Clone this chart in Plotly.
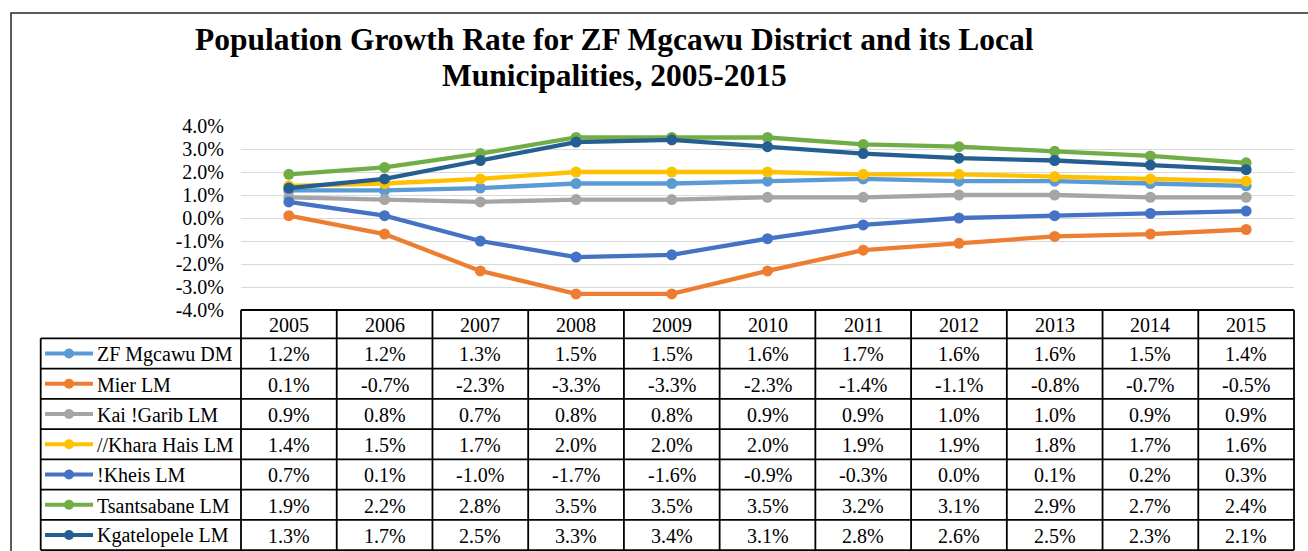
import plotly.graph_objects as go

years = ["2005", "2006", "2007", "2008", "2009", "2010", "2011", "2012", "2013", "2014", "2015"]
series_names = ["ZF Mgcawu DM", "Mier LM", "Kai !Garib LM", "//Khara Hais LM", "!Kheis LM", "Tsantsabane LM", "Kgatelopele LM"]
zf_mgcawu = [1.2, 1.2, 1.3, 1.5, 1.5, 1.6, 1.7, 1.6, 1.6, 1.5, 1.4]
mier = [0.1, -0.7, -2.3, -3.3, -3.3, -2.3, -1.4, -1.1, -0.8, -0.7, -0.5]
kai_garib = [0.9, 0.8, 0.7, 0.8, 0.8, 0.9, 0.9, 1.0, 1.0, 0.9, 0.9]
khara_hais = [1.4, 1.5, 1.7, 2.0, 2.0, 2.0, 1.9, 1.9, 1.8, 1.7, 1.6]
kheis = [0.7, 0.1, -1.0, -1.7, -1.6, -0.9, -0.3, 0.0, 0.1, 0.2, 0.3]
tsantsabane = [1.9, 2.2, 2.8, 3.5, 3.5, 3.5, 3.2, 3.1, 2.9, 2.7, 2.4]
kgatelopele = [1.3, 1.7, 2.5, 3.3, 3.4, 3.1, 2.8, 2.6, 2.5, 2.3, 2.1]
series_values = [zf_mgcawu, mier, kai_garib, khara_hais, kheis, tsantsabane, kgatelopele]
colors = ["#5B9BD5", "#ED7D31", "#A5A5A5", "#FFC000", "#4472C4", "#70AD47", "#255E91"]
y_tick_vals = [-4, -3, -2, -1, 0, 1, 2, 3, 4]
y_tick_text = ["-4.0%", "-3.0%", "-2.0%", "-1.0%", "0.0%", "1.0%", "2.0%", "3.0%", "4.0%"]
title_line1 = "Population Growth Rate for ZF Mgcawu District and its Local"
title_line2 = "Municipalities, 2005-2015"

W, H = 1308, 551
L, R, T, B = 241, 14, 126, 241
PW = W - L - R
PH = H - T - B
FONT = "Liberation Serif, Times New Roman, serif"


def px_x(px):
    return (px - L) / PW


def px_y(py):
    return (H - B - py) / PH


fig = go.Figure()
for name, vals, col in zip(series_names, series_values, colors):
    fig.add_trace(go.Scatter(
        x=years, y=vals, name=name, mode="lines+markers",
        line=dict(color=col, width=4.3),
        marker=dict(color=col, size=11),
        showlegend=False,
    ))

shapes = []
annotations = []

# outer chart border
shapes.append(dict(type="rect", xref="paper", yref="paper",
                   x0=px_x(11), x1=px_x(1330), y0=px_y(13), y1=px_y(600),
                   line=dict(color="#262626", width=1.5), fillcolor="rgba(0,0,0,0)", layer="below"))

# title
annotations.append(dict(text="<b>" + title_line1 + "</b>", xref="paper", yref="paper", x=px_x(614), y=px_y(39),
                        xanchor="center", yanchor="middle", showarrow=False,
                        font=dict(family=FONT, size=31.5, color="#000000")))
annotations.append(dict(text="<b>" + title_line2 + "</b>", xref="paper", yref="paper", x=px_x(614), y=px_y(76),
                        xanchor="center", yanchor="middle", showarrow=False,
                        font=dict(family=FONT, size=31.5, color="#000000")))

# data table geometry
table_top = 310.0
header_h = 28.3
row_h = 30.25
leg_left = 40.7
n = len(years)
rows_top = table_top + header_h
table_bottom = rows_top + row_h * len(series_names)
line_style = dict(color="#000000", width=1.8)

# horizontal lines
shapes.append(dict(type="line", xref="paper", yref="paper", x0=0, x1=1,
                   y0=px_y(table_top), y1=px_y(table_top), line=line_style))
for i in range(len(series_names) + 1):
    yy = px_y(rows_top + i * row_h)
    shapes.append(dict(type="line", xref="paper", yref="paper", x0=px_x(leg_left), x1=1,
                       y0=yy, y1=yy, line=line_style))
# vertical lines
for j in range(n + 1):
    xx = j / n
    shapes.append(dict(type="line", xref="paper", yref="paper", x0=xx, x1=xx,
                       y0=px_y(table_top), y1=px_y(table_bottom), line=line_style))
shapes.append(dict(type="line", xref="paper", yref="paper", x0=px_x(leg_left), x1=px_x(leg_left),
                   y0=px_y(rows_top), y1=px_y(table_bottom), line=line_style))

# header text
for j, yr in enumerate(years):
    annotations.append(dict(text=yr, xref="x", yref="paper", x=j, y=px_y(table_top + header_h / 2 + 1),
                            xanchor="center", yanchor="middle", showarrow=False,
                            font=dict(family=FONT, size=20, color="#000000")))

# rows
for i, (name, vals, col) in enumerate(zip(series_names, series_values, colors)):
    cy = px_y(rows_top + (i + 0.5) * row_h + 1)
    ky = px_y(rows_top + (i + 0.5) * row_h)
    shapes.append(dict(type="line", xref="paper", yref="paper", x0=px_x(45), x1=px_x(93),
                       y0=ky, y1=ky, line=dict(color=col, width=4)))
    shapes.append(dict(type="circle", xref="paper", yref="paper", xsizemode="pixel", ysizemode="pixel",
                       xanchor=px_x(69), yanchor=ky, x0=-5, x1=5, y0=-5, y1=5,
                       fillcolor=col, line=dict(color=col, width=0)))
    annotations.append(dict(text=name, xref="paper", yref="paper", x=px_x(95), y=cy,
                            xanchor="left", yanchor="middle", showarrow=False,
                            font=dict(family=FONT, size=20, color="#000000")))
    for j, v in enumerate(vals):
        annotations.append(dict(text=f"{v:.1f}%", xref="x", yref="paper", x=j, y=cy,
                                xanchor="center", yanchor="middle", showarrow=False,
                                font=dict(family=FONT, size=20, color="#000000")))

fig.update_layout(
    width=W, height=H,
    margin=dict(l=L, r=R, t=T, b=B, autoexpand=False),
    paper_bgcolor="#FFFFFF", plot_bgcolor="#FFFFFF",
    shapes=shapes, annotations=annotations,
    xaxis=dict(type="category", range=[-0.5, n - 0.5], showticklabels=False, showgrid=False,
               zeroline=False, showline=False, ticks=""),
    yaxis=dict(range=[-4, 4], tickvals=y_tick_vals, ticktext=y_tick_text, showgrid=True,
               gridcolor="#D9D9D9", gridwidth=1.3, zeroline=False, showline=False, ticks="",
               ticklabelstandoff=16, tickfont=dict(family=FONT, size=20, color="#000000")),
    hovermode=False,
)

fig.write_html("out.html", config={"displayModeBar": False},
               post_script="document.body.style.margin='0';document.body.style.overflow='hidden';")
